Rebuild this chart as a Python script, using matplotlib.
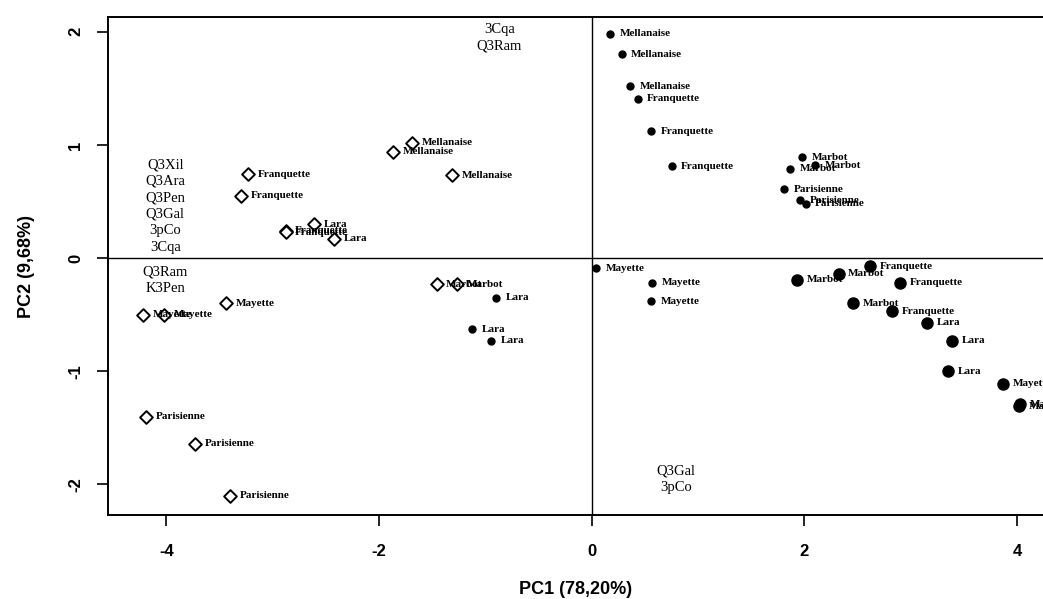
import matplotlib
matplotlib.use('Agg')
import matplotlib.pyplot as plt

# PCA scores, first group (open diamonds)
open_names = ["Mellanaise", "Mellanaise", "Mellanaise", "Franquette", "Franquette",
              "Lara", "Franquette", "Franquette", "Lara", "Marbot", "Marbot",
              "Mayette", "Mayette", "Mayette", "Parisienne", "Parisienne", "Parisienne"]
open_pc1 = [-1.69, -1.87, -1.31, -3.23, -3.30, -2.61, -2.88, -2.88, -2.42, -1.46, -1.27,
            -3.44, -4.22, -4.02, -4.19, -3.73, -3.40]
open_pc2 = [1.02, 0.94, 0.73, 0.74, 0.55, 0.30, 0.24, 0.23, 0.17, -0.23, -0.23,
            -0.40, -0.50, -0.50, -1.40, -1.64, -2.10]

# PCA scores, second group (filled dots)
dot_names = ["Mellanaise", "Mellanaise", "Mellanaise", "Franquette", "Franquette", "Franquette",
             "Marbot", "Marbot", "Marbot", "Parisienne", "Parisienne", "Parisienne",
             "Lara", "Lara", "Lara",
             "Mayette", "Mayette", "Mayette",
             "Marbot", "Marbot", "Franquette", "Franquette", "Marbot", "Franquette",
             "Lara", "Lara", "Lara", "Mayette", "Mayette", "Mayette"]
dot_pc1 = [0.17, 0.28, 0.36, 0.43, 0.56, 0.75,
           1.98, 1.86, 2.10, 1.81, 1.96, 2.01,
           -0.90, -1.13, -0.95,
           0.04, 0.57, 0.56,
           1.93, 2.32, 2.62, 2.90, 2.46, 2.82,
           3.15, 3.39, 3.35, 3.87, 4.02, 4.03]
dot_pc2 = [1.98, 1.80, 1.52, 1.41, 1.12, 0.81,
           0.89, 0.79, 0.82, 0.61, 0.51, 0.48,
           -0.35, -0.63, -0.73,
           -0.09, -0.22, -0.38,
           -0.19, -0.14, -0.07, -0.22, -0.40, -0.47,
           -0.57, -0.73, -1.00, -1.11, -1.31, -1.29]
dot_size = [5, 5, 5, 5, 5, 5,
            5, 5, 5, 5, 5, 5,
            5, 5, 5,
            5, 5, 5,
            8, 8, 8, 8, 8, 8,
            8, 8, 8, 8, 8, 8]

# Variable names placed on the score plot
var_names = ["3Cqa", "Q3Ram",
             "Q3Xil", "Q3Ara", "Q3Pen", "Q3Gal", "3pCo", "3Cqa", "Q3Ram", "K3Pen",
             "Q3Gal", "3pCo"]
var_pc1 = [-0.87, -0.87,
           -4.01, -4.01, -4.01, -4.01, -4.01, -4.01, -4.01, -4.01,
           0.79, 0.79]
var_pc2 = [2.02, 1.87,
           0.82, 0.68, 0.53, 0.39, 0.24, 0.09, -0.12, -0.27,
           -1.88, -2.03]

xticks = [-4, -2, 0, 2, 4]
yticks = [-2, -1, 0, 1, 2]

sans = ['Liberation Sans Narrow', 'Liberation Sans', 'DejaVu Sans']
serif = ['Liberation Serif', 'DejaVu Serif']

fig = plt.figure(figsize=(10.43, 5.99), dpi=100)
ax = fig.add_axes([0.1035, 0.1402, 0.8965, 0.8314])

ax.axhline(0, color='black', linewidth=1.0, zorder=1)
ax.axvline(0, color='black', linewidth=1.0, zorder=1)

ax.scatter(open_pc1, open_pc2, marker='D', s=42, facecolors='white',
           edgecolors='black', linewidths=1.4, zorder=3)
for name, x, y in zip(open_names, open_pc1, open_pc2):
    ax.annotate(name, (x, y), xytext=(7, 0), textcoords='offset points',
                va='center', ha='left', fontsize=8, fontweight='bold',
                family=serif, zorder=4)

for name, x, y, s in zip(dot_names, dot_pc1, dot_pc2, dot_size):
    ax.plot(x, y, 'o', color='black', markersize=s, zorder=3)
    ax.annotate(name, (x, y), xytext=(7, 0), textcoords='offset points',
                va='center', ha='left', fontsize=8, fontweight='bold',
                family=serif, zorder=4)

for name, x, y in zip(var_names, var_pc1, var_pc2):
    ax.text(x, y, name, ha='center', va='center', fontsize=10.5,
            family=serif, zorder=4)

ax.set_xlim(-4.55, 4.243)
ax.set_ylim(-2.27, 2.13)
ax.set_xticks(xticks)
ax.set_yticks(yticks)
ax.set_xticklabels([str(t) for t in xticks], fontsize=12, fontweight='bold', family=sans)
ax.set_yticklabels([str(t) for t in yticks], fontsize=12, fontweight='bold', family=sans,
                   rotation=90, va='center')
ax.tick_params(length=8, width=1.2)
ax.tick_params(axis='x', pad=13)
ax.tick_params(axis='y', pad=10)

for side in ['left', 'bottom', 'top']:
    ax.spines[side].set_linewidth(1.4)
ax.spines['right'].set_visible(False)

ax.set_xlabel('PC1 (78,20%)', fontsize=13, fontweight='bold', family=sans, labelpad=16)
ax.set_ylabel('PC2 (9,68%)', fontsize=13, fontweight='bold', family=sans, labelpad=24)

plt.savefig('out.png', dpi=100)
plt.close()
